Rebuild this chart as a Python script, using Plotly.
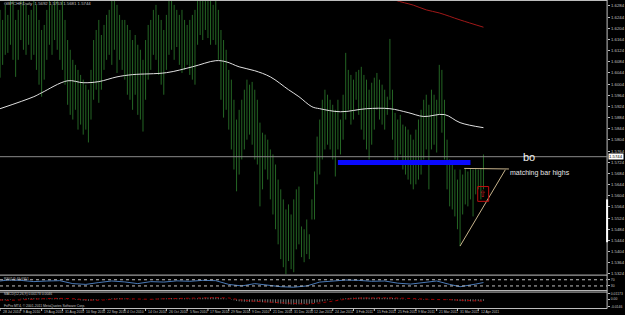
import plotly.graph_objects as go
import pandas as pd

W, H = 625, 315
PLOT_R = 612  # px, right edge of the chart area (price axis line)

# ---------------- data ----------------
FIRST_DATE = "2010-07-28"  # first visible daily bar

HIGH = [
    1.6270, 1.6234, 1.6288, 1.6252, 1.6305, 1.6305, 1.6234, 1.6270, 1.6305, 1.6305,
    1.6288, 1.6252, 1.6270, 1.6305, 1.6288, 1.6234, 1.6198, 1.6216, 1.6270, 1.6305,
    1.6288, 1.6305, 1.6305, 1.6270, 1.6305, 1.6234, 1.6162, 1.6127, 1.6091, 1.6073,
    1.6055, 1.6037, 1.6020, 1.6002, 1.5984, 1.6055, 1.6162, 1.6198, 1.6234, 1.6180,
    1.6216, 1.6252, 1.6270, 1.6305, 1.6305, 1.6288, 1.6252, 1.6234, 1.6234, 1.6216,
    1.6198, 1.6162, 1.6180, 1.6145, 1.6127, 1.6091, 1.6162, 1.6216, 1.6234, 1.6270,
    1.6288, 1.6252, 1.6234, 1.6198, 1.6252, 1.6305, 1.6305, 1.6288, 1.6270, 1.6252,
    1.6270, 1.6234, 1.6216, 1.6234, 1.6252, 1.6270, 1.6305, 1.6305, 1.6305, 1.6305,
    1.6305, 1.6305, 1.6288, 1.6305, 1.6270, 1.6198, 1.6162, 1.6127, 1.6055, 1.6020,
    1.5948, 1.5877, 1.5912, 1.5948, 1.5984, 1.6020, 1.6002, 1.6012, 1.5984, 1.5948,
    1.5866, 1.5830, 1.5823, 1.5805, 1.5770, 1.5752, 1.5716, 1.5662, 1.5627, 1.5591,
    1.5555, 1.5573, 1.5537, 1.5591, 1.5627, 1.5637, 1.5494, 1.5484, 1.5519, 1.5466,
    1.5591, 1.5691, 1.5816, 1.5877, 1.5948, 1.5984, 1.5966, 1.5948, 1.5930, 1.5912,
    1.5948, 1.5877, 1.5966, 1.6116, 1.6055, 1.6037, 1.6020, 1.6048, 1.6055, 1.6066,
    1.6037, 1.6020, 1.5984, 1.6009, 1.6027, 1.6044, 1.6020, 1.6002, 1.5984, 1.5959,
    1.6166, 1.5984, 1.5901, 1.5877, 1.5894, 1.5859, 1.5852, 1.5841, 1.5823, 1.5805,
    1.5841, 1.5877, 1.5912, 1.5948, 1.5966, 1.5930, 1.5984, 1.5966, 1.5948, 1.6073,
    1.6055, 1.5948, 1.5805, 1.5734, 1.5716, 1.5698, 1.5662, 1.5698, 1.5680, 1.5702,
    1.5691, 1.5702, 1.5698, 1.5702, 1.5698, 1.5702, 1.5752,
]
LOW = [
    1.6027, 1.6073, 1.6109, 1.6116, 1.6145, 1.6091, 1.6030, 1.6091, 1.6162, 1.6127,
    1.6109, 1.6145, 1.6091, 1.6109, 1.6055, 1.6002, 1.5959, 1.6020, 1.6091, 1.6145,
    1.6109, 1.6162, 1.6127, 1.6091, 1.6055, 1.6002, 1.5930, 1.5894, 1.5877, 1.5912,
    1.5841, 1.5859, 1.5823, 1.5841, 1.5795, 1.5877, 1.5948, 1.5984, 1.5937, 1.5984,
    1.6055, 1.6091, 1.6109, 1.6073, 1.6127, 1.6044, 1.6091, 1.6055, 1.6020, 1.5966,
    1.5948, 1.5912, 1.5966, 1.5894, 1.5877, 1.5834, 1.5948, 1.6020, 1.6055, 1.6109,
    1.6091, 1.6037, 1.6002, 1.5966, 1.6055, 1.6109, 1.6127, 1.6091, 1.6137, 1.6073,
    1.6044, 1.6055, 1.6073, 1.6037, 1.6020, 1.6002, 1.6145, 1.6180, 1.6162, 1.6198,
    1.6169, 1.6145, 1.6162, 1.6145, 1.6091, 1.5948, 1.5884, 1.5912, 1.5841, 1.5770,
    1.5698, 1.5620, 1.5680, 1.5734, 1.5770, 1.5805, 1.5823, 1.5787, 1.5734, 1.5716,
    1.5566, 1.5627, 1.5698, 1.5662, 1.5591, 1.5537, 1.5484, 1.5430, 1.5377, 1.5348,
    1.5323, 1.5370, 1.5341, 1.5330, 1.5412, 1.5430, 1.5384, 1.5366, 1.5395, 1.5377,
    1.5519, 1.5519, 1.5645, 1.5680, 1.5734, 1.5770, 1.5787, 1.5770, 1.5734, 1.5673,
    1.5770, 1.5752, 1.5805, 1.5877, 1.5912, 1.5859, 1.5877, 1.5948, 1.5894, 1.5841,
    1.5805, 1.5770, 1.5734, 1.5787, 1.5841, 1.5912, 1.5877, 1.5859, 1.5841, 1.5894,
    1.5948, 1.5805, 1.5734, 1.5716, 1.5752, 1.5698, 1.5680, 1.5662, 1.5645, 1.5627,
    1.5645, 1.5662, 1.5680, 1.5734, 1.5770, 1.5627, 1.5770, 1.5787, 1.5759, 1.5894,
    1.5830, 1.5734, 1.5627, 1.5566, 1.5555, 1.5530, 1.5484, 1.5423, 1.5537, 1.5573,
    1.5566, 1.5591, 1.5530, 1.5609, 1.5627, 1.5591, 1.5627,
]

# white moving average (bar index, value)
WMA_IDX = [0, 13, 16, 26, 32, 38, 45, 51, 64, 74, 83, 87, 92, 98, 104, 111, 115,
           120, 123, 131, 141, 150, 157, 163, 171, 177, 186]
WMA_VAL = [1.5916, 1.5959, 1.5973, 1.6016, 1.6009, 1.6013, 1.6030, 1.6038, 1.6045,
           1.6066, 1.6088, 1.6084, 1.6066, 1.6052, 1.6030, 1.5984, 1.5959, 1.5923,
           1.5916, 1.5905, 1.5916, 1.5916, 1.5902, 1.5888, 1.5895, 1.5866, 1.5848]
# red (long) moving average
RMA_IDX = [146, 152, 159, 164, 169, 177, 186]
RMA_VAL = [1.6330, 1.6305, 1.6287, 1.6270, 1.6259, 1.6234, 1.6208]

# RSI sub-window
RSI_IDX = [0, 3, 8, 13, 18, 23, 28, 33, 38, 43, 48, 53, 58, 63, 68, 73, 78, 83, 88,
           93, 98, 103, 108, 113, 118, 123, 128, 133, 138, 143, 148, 153, 158, 163,
           168, 173, 177, 183, 186]
RSI_VAL = [62, 68, 66, 58, 62, 64, 45, 40, 52, 62, 56, 45, 58, 55, 63, 60, 66, 64, 40,
           30, 45, 35, 25, 22, 30, 55, 62, 68, 66, 60, 62, 48, 42, 50, 62, 40, 25, 42, 52]
RSI_LEVELS = [70, 30]

# MACD sub-window (pips)
MACD_PIPS = [
    -25, -22, -20, -15, -10, -5, 0, 5,
    10, 15, 18, 20, 22, 20, 18, 15, 12, 10,
    12, 15, 18, 20, 22, 20, 15, 10, 5, 0,
    -5, -10, -15, -20, -25, -28, -30, -28, -22, -15,
    -10, -5, 0, 5, 10, 15, 18, 20, 20, 18,
    15, 12, 8, 5, 2, 0, -3, -5, -3, 0,
    3, 6, 10, 12, 14, 15, 17, 20, 22, 22,
    22, 22, 20, 18, 16, 15, 15, 16, 20, 25,
    30, 33, 35, 37, 38, 38, 35, 28, 20, 12,
    2, -8, -20, -32, -40, -45, -48, -50, -50, -50,
    -50, -50, -55, -58, -60, -62, -65, -70, -75, -80,
    -85, -90, -95, -98, -100, -102, -100, -98, -95, -92,
    -90, -88, -80, -70, -60, -50, -40, -30, -20, -12,
    -5, 0, 5, 10, 15, 20, 25, 28, 30, 32,
    34, 35, 35, 34, 32, 30, 30, 30, 29, 28,
    28, 30, 30, 28, 25, 20, 15, 10, 6, 2,
    -2, -5, -8, -10, -10, -10, -8, -6, -5, -4,
    -2, 0, -2, -6, -10, -15, -20, -25, -30, -36,
    -38, -40, -40, -40, -40, -38, -36, -34, -30,
]
SIG_IDX = [0, 3, 8, 13, 18, 23, 28, 33, 38, 43, 48, 53, 58, 63, 68, 73, 78, 83, 88,
           93, 98, 103, 108, 113, 118, 123, 128, 133, 138, 143, 148, 153, 158, 163,
           168, 173, 178, 183, 186]
SIG_PIPS = [-12, -22, -12, 5, 15, 18, 12, -10, -20, -2, 12, 5, -1, 10, 18, 18, 20, 32,
            25, -15, -40, -55, -72, -92, -95, -72, -35, 0, 22, 30, 29, 25, 10, -5, -6,
            -8, -25, -37, -38]

PRICE_TICKS = [1.6284, 1.6244, 1.6204, 1.6164, 1.6124, 1.6084, 1.6044, 1.6004,
               1.5964, 1.5924, 1.5884, 1.5844, 1.5804, 1.5764, 1.5724, 1.5684,
               1.5644, 1.5604, 1.5564, 1.5524, 1.5484, 1.5444, 1.5404, 1.5364, 1.5324]
BID = 1.5744
HEADER = "GBPCHF,Daily  1.5692 1.5753 1.5681 1.5744"
RSI_TEXT = "RSI(14) 49.6951"
MACD_TEXT = "MACD(12,26,9) 0.00173 0.0046"
COPYRIGHT = "FxPro MT4, © 2001-2011 MetaQuotes Software Corp."

# user drawings
BLUE_LEVEL, BLUE_FROM, BLUE_TO = 1.5723, 130, 181
TRI_X, TRI_Y = [177, 194.4], [1.5424, 1.5697]
TOP_X, TOP_Y = [178.6, 195.8], [1.5702, 1.5700]
BOX_X, BOX_Y = [183.8, 188.0], [1.5584, 1.5637]

n = len(HIGH)
dates = pd.bdate_range(FIRST_DATE, periods=n)
TICK_IDX = list(range(0, n, 8))
TICK_TEXT = [f"{dates[i].day} {dates[i].strftime('%b %Y')}" for i in TICK_IDX]


def py(px):
    return 1 - px / H


def pxx(px):
    return px / W


FONT = "Liberation Sans"
GREY = "#c0c0c0"

fig = go.Figure()

# price bars (high-low)
bx, by = [], []
for j, (h, l) in enumerate(zip(HIGH, LOW)):
    bx += [j, j, None]
    by += [l, h, None]
fig.add_trace(go.Scatter(x=bx, y=by, mode="lines", line=dict(color="#339033", width=0.7),
                         hoverinfo="skip"))

fig.add_trace(go.Scatter(x=WMA_IDX, y=WMA_VAL, mode="lines",
                         line=dict(color="#e0e0e0", width=1, shape="spline")))
fig.add_trace(go.Scatter(x=RMA_IDX, y=RMA_VAL, mode="lines",
                         line=dict(color="#a01818", width=1, shape="spline")))

# blue horizontal level
fig.add_trace(go.Scatter(x=[BLUE_FROM, BLUE_TO], y=[BLUE_LEVEL, BLUE_LEVEL], mode="lines",
                         line=dict(color="#0a0aff", width=5)))
# triangle lines
fig.add_trace(go.Scatter(x=TRI_X, y=TRI_Y, mode="lines", line=dict(color="#c8b48c", width=1)))
fig.add_trace(go.Scatter(x=TOP_X, y=TOP_Y, mode="lines", line=dict(color="#c8b48c", width=1)))

# RSI
fig.add_trace(go.Scatter(x=RSI_IDX, y=RSI_VAL, mode="lines", yaxis="y2",
                         line=dict(color="#4a7ab8", width=1)))

# MACD histogram + signal
mx, my = [], []
for j, v in enumerate(MACD_PIPS):
    mx += [j, j, None]
    my += [0, v, None]
fig.add_trace(go.Scatter(x=mx, y=my, mode="lines", yaxis="y3",
                         line=dict(color="#a8a8a8", width=0.7)))
fig.add_trace(go.Scatter(x=SIG_IDX, y=SIG_PIPS, mode="lines", yaxis="y3",
                         line=dict(color="#a00000", width=1, dash="dot")))

x_max = (PLOT_R - 0.04) / 2.62
shapes = []
# separators / frame
for ypx in [0.5, 276, 291.5, 293, 309.5]:
    shapes.append(dict(type="line", xref="paper", yref="paper", x0=0, x1=pxx(PLOT_R),
                       y0=py(ypx), y1=py(ypx), line=dict(color=GREY, width=1)))
shapes.append(dict(type="line", xref="paper", yref="paper", x0=pxx(PLOT_R), x1=pxx(PLOT_R),
                   y0=py(0), y1=py(309.5), line=dict(color=GREY, width=1)))
shapes.append(dict(type="line", xref="paper", yref="paper", x0=pxx(PLOT_R), x1=pxx(PLOT_R),
                   y0=py(200), y1=py(243), line=dict(color="#ffffff", width=2)))
# bid line
shapes.append(dict(type="line", xref="paper", yref="y", x0=0, x1=pxx(PLOT_R),
                   y0=BID, y1=BID, line=dict(color="#8a8a8a", width=1)))
# RSI levels
for lv in RSI_LEVELS:
    shapes.append(dict(type="line", xref="paper", yref="y2", x0=0, x1=pxx(PLOT_R),
                       y0=lv, y1=lv, line=dict(color=GREY, width=1, dash="dot")))
# red box
shapes.append(dict(type="rect", xref="x", yref="y", x0=BOX_X[0], x1=BOX_X[1],
                   y0=BOX_Y[0], y1=BOX_Y[1], line=dict(color="#c01010", width=1)))
# date tick marks
for j in TICK_IDX:
    shapes.append(dict(type="line", xref="x", yref="paper", x0=j, x1=j,
                       y0=py(309.5), y1=py(312), line=dict(color=GREY, width=1)))

ann = []
small = dict(family=FONT, size=4.3, color=GREY)
tiny = dict(family=FONT, size=3.4, color=GREY)
ann.append(dict(text=HEADER, x=pxx(2), y=py(3.5), xref="paper", yref="paper",
                xanchor="left", yanchor="middle", showarrow=False, font=small))
ann.append(dict(text=RSI_TEXT, x=pxx(2), y=py(279.5), xref="paper", yref="paper",
                xanchor="left", yanchor="middle", showarrow=False, font=tiny))
ann.append(dict(text=MACD_TEXT, x=pxx(2), y=py(295), xref="paper", yref="paper",
                xanchor="left", yanchor="middle", showarrow=False, font=tiny))
ann.append(dict(text=COPYRIGHT, x=pxx(2), y=py(306.5), xref="paper", yref="paper",
                xanchor="left", yanchor="middle", showarrow=False, font=tiny))
for j, t in zip(TICK_IDX, TICK_TEXT):
    ann.append(dict(text=t, x=j, y=py(313), xref="x", yref="paper", xanchor="left",
                    yanchor="middle", showarrow=False, font=tiny, xshift=0.5))
ann.append(dict(text=f"{BID:.4f}", x=pxx(PLOT_R + 1), y=BID, xref="paper", yref="y",
                xanchor="left", yanchor="middle", showarrow=False, bgcolor="#ffffff",
                borderpad=0, font=dict(family=FONT, size=4.3, color="#000000")))
ann.append(dict(text="bo", x=200.4, y=BID, xref="x", yref="y", xanchor="left",
                yanchor="middle", showarrow=False,
                font=dict(family=FONT, size=11, color="#f4f4f4")))
ann.append(dict(text="matching bar highs", x=195.5, y=1.5684, xref="x", yref="y",
                xanchor="left", yanchor="middle", showarrow=False,
                font=dict(family=FONT, size=7, color="#e6e6e6")))
ann.append(dict(text="⇧", x=(BOX_X[0] + BOX_X[1]) / 2, y=(BOX_Y[0] + BOX_Y[1]) / 2,
                xref="x", yref="y", xanchor="center", yanchor="middle", showarrow=False,
                font=dict(family="DejaVu Sans", size=9, color="#d02020")))

axis_common = dict(showgrid=False, zeroline=False, side="right", anchor="x",
                   ticks="outside", ticklen=2, tickcolor=GREY, showline=False,
                   tickfont=dict(family=FONT, size=4.3, color=GREY))

fig.update_layout(
    width=W, height=H, margin=dict(l=0, r=0, t=0, b=0),
    paper_bgcolor="#000000", plot_bgcolor="#000000", showlegend=False,
    xaxis=dict(domain=[0, pxx(PLOT_R)], range=[-0.015, x_max], visible=False),
    yaxis=dict(domain=[py(276), 1], range=[1.63054 - 276 / 2800, 1.63054],
               tickvals=PRICE_TICKS, ticktext=[f"{v:.4f}" for v in PRICE_TICKS],
               **axis_common),
    yaxis2=dict(domain=[py(291.5), py(276)], range=[0, 100], tickvals=RSI_LEVELS,
                ticktext=[str(v) for v in RSI_LEVELS],
                **{**axis_common, "tickfont": tiny}),
    yaxis3=dict(domain=[py(309.5), py(293)], range=[-180, 140], tickvals=[114, 0, -146],
                ticktext=["0.01173", "0.00", "-0.0146"],
                **{**axis_common, "tickfont": tiny}),
    shapes=shapes, annotations=ann,
)

fig.write_html("out.html")
